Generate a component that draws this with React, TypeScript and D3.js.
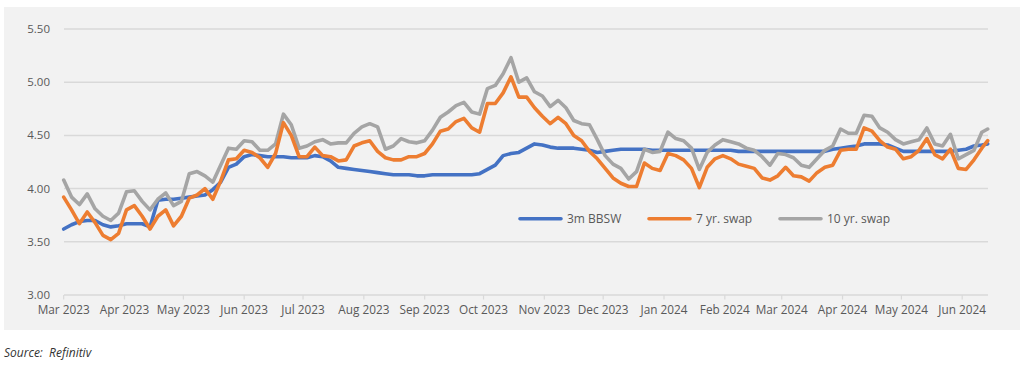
import React from "react";
import * as d3 from "d3";

const dates: string[] = [
  "2023-03-01","2023-03-05","2023-03-09","2023-03-13","2023-03-17","2023-03-21","2023-03-25","2023-03-29",
  "2023-04-02","2023-04-06","2023-04-10","2023-04-14","2023-04-18","2023-04-22","2023-04-26","2023-04-30",
  "2023-05-04","2023-05-08","2023-05-12","2023-05-16","2023-05-20","2023-05-24","2023-05-28","2023-06-01",
  "2023-06-05","2023-06-09","2023-06-13","2023-06-17","2023-06-21","2023-06-25","2023-06-29","2023-07-03",
  "2023-07-07","2023-07-11","2023-07-15","2023-07-19","2023-07-23","2023-07-27","2023-07-31","2023-08-04",
  "2023-08-08","2023-08-12","2023-08-16","2023-08-20","2023-08-24","2023-08-28","2023-09-01","2023-09-05",
  "2023-09-09","2023-09-13","2023-09-17","2023-09-21","2023-09-25","2023-09-29","2023-10-03","2023-10-07",
  "2023-10-11","2023-10-15","2023-10-19","2023-10-23","2023-10-27","2023-10-31","2023-11-04","2023-11-08",
  "2023-11-12","2023-11-16","2023-11-20","2023-11-24","2023-11-28","2023-12-02","2023-12-06","2023-12-10",
  "2023-12-14","2023-12-18","2023-12-22","2023-12-26","2023-12-30","2024-01-03","2024-01-07","2024-01-11",
  "2024-01-15","2024-01-19","2024-01-23","2024-01-27","2024-01-31","2024-02-04","2024-02-08","2024-02-12",
  "2024-02-16","2024-02-20","2024-02-24","2024-02-28","2024-03-03","2024-03-07","2024-03-11","2024-03-15",
  "2024-03-19","2024-03-23","2024-03-27","2024-03-31","2024-04-04","2024-04-08","2024-04-12","2024-04-16",
  "2024-04-20","2024-04-24","2024-04-28","2024-05-02","2024-05-06","2024-05-10","2024-05-14","2024-05-18",
  "2024-05-22","2024-05-26","2024-05-30","2024-06-03","2024-06-07","2024-06-11","2024-06-14"
];

const bbsw3m: number[] = [
  3.62,3.66,3.69,3.70,3.70,3.66,3.64,3.65,3.67,3.67,3.67,3.64,3.89,3.90,3.90,3.91,
  3.92,3.93,3.94,3.99,4.06,4.20,4.23,4.30,4.32,4.31,4.30,4.30,4.30,4.29,4.29,4.29,
  4.31,4.30,4.26,4.20,4.19,4.18,4.17,4.16,4.15,4.14,4.13,4.13,4.13,4.12,4.12,4.13,
  4.13,4.13,4.13,4.13,4.13,4.14,4.18,4.22,4.31,4.33,4.34,4.38,4.42,4.41,4.39,4.38,
  4.38,4.38,4.37,4.36,4.34,4.35,4.36,4.37,4.37,4.37,4.37,4.36,4.36,4.36,4.36,4.36,
  4.36,4.36,4.36,4.36,4.36,4.36,4.35,4.35,4.35,4.35,4.35,4.35,4.35,4.35,4.35,4.35,
  4.35,4.35,4.37,4.38,4.39,4.40,4.42,4.42,4.42,4.41,4.38,4.35,4.35,4.35,4.35,4.35,
  4.35,4.35,4.36,4.37,4.40,4.41,4.42
];

const swap7: number[] = [
  3.92,3.80,3.67,3.78,3.68,3.56,3.52,3.58,3.80,3.84,3.74,3.62,3.74,3.80,3.65,3.74,
  3.91,3.94,4.00,3.90,4.07,4.27,4.28,4.36,4.34,4.29,4.20,4.33,4.62,4.50,4.30,4.30,
  4.39,4.31,4.30,4.26,4.27,4.40,4.43,4.45,4.35,4.29,4.27,4.27,4.30,4.30,4.33,4.42,
  4.54,4.56,4.63,4.66,4.57,4.53,4.80,4.80,4.90,5.05,4.86,4.86,4.76,4.68,4.61,4.67,
  4.61,4.50,4.45,4.35,4.28,4.19,4.10,4.05,4.02,4.02,4.24,4.19,4.17,4.33,4.31,4.27,
  4.19,4.01,4.20,4.28,4.31,4.28,4.23,4.21,4.19,4.10,4.08,4.12,4.20,4.12,4.11,4.07,
  4.15,4.20,4.22,4.36,4.37,4.37,4.57,4.54,4.45,4.39,4.37,4.28,4.30,4.36,4.47,4.32,
  4.28,4.37,4.19,4.18,4.27,4.38,4.45
];

const swap10: number[] = [
  4.08,3.92,3.85,3.95,3.81,3.74,3.70,3.77,3.97,3.98,3.88,3.80,3.90,3.96,3.84,3.88,
  4.14,4.16,4.12,4.06,4.22,4.38,4.37,4.45,4.44,4.36,4.36,4.42,4.70,4.60,4.38,4.40,
  4.44,4.46,4.42,4.43,4.43,4.52,4.58,4.61,4.58,4.37,4.40,4.47,4.44,4.43,4.45,4.55,
  4.67,4.72,4.78,4.81,4.72,4.70,4.94,4.97,5.08,5.23,5.00,5.04,4.91,4.87,4.77,4.83,
  4.76,4.64,4.61,4.60,4.46,4.31,4.23,4.19,4.09,4.16,4.37,4.34,4.35,4.53,4.47,4.45,
  4.38,4.18,4.34,4.41,4.46,4.44,4.42,4.38,4.36,4.30,4.22,4.33,4.32,4.29,4.22,4.20,
  4.28,4.36,4.40,4.56,4.52,4.52,4.69,4.68,4.57,4.53,4.46,4.42,4.44,4.46,4.57,4.42,
  4.40,4.51,4.28,4.32,4.36,4.53,4.56
];

const yTicks: number[] = [3.0, 3.5, 4.0, 4.5, 5.0, 5.5];
const seriesNames: string[] = ["3m BBSW", "7 yr. swap", "10 yr. swap"];
const seriesColors: string[] = ["#4472C4", "#ED7D31", "#A5A5A5"];
const xDomain: string[] = ["2023-03-01", "2024-06-14"];

export default function App() {
  const W = 1024, H = 367;
  const parse = d3.utcParse("%Y-%m-%d");
  const dts = dates.map((s) => parse(s) as Date);
  const x = d3.scaleUtc()
    .domain([parse(xDomain[0]) as Date, parse(xDomain[1]) as Date])
    .range([63.7, 987.7]);
  const y = d3.scaleLinear().domain([3, 5.5]).range([295, 29]);
  const months = d3.utcMonth.range(parse("2023-03-01") as Date, parse("2024-06-02") as Date);
  const fmt = d3.utcFormat("%b %Y");
  const series = [bbsw3m, swap7, swap10];
  const line = (vals: number[]) =>
    d3.line<number>().x((_, i) => x(dts[i])).y((v) => y(v))(vals) || "";
  const font = "'Open Sans', 'Noto Sans', sans-serif";
  const legendX = [520, 649, 780];

  return (
    <svg width={W} height={H} style={{ position: "absolute", left: 0, top: 0 }}>
      <rect x={4} y={7} width={1016} height={323} fill="#f2f2f2" />
      {yTicks.map((t) => (
        <g key={t}>
          <line x1={64} x2={988} y1={y(t)} y2={y(t)} stroke="#d9d9d9" strokeWidth={1.5} />
          <text x={50} y={y(t) + 4} textAnchor="end" fontFamily={font} fontSize={11.5} fill="#595959">
            {t.toFixed(2)}
          </text>
        </g>
      ))}
      {months.map((m) => (
        <g key={m.toISOString()}>
          <line x1={x(m)} x2={x(m)} y1={295} y2={299.5} stroke="#d9d9d9" strokeWidth={1.2} />
          <text x={x(m)} y={314} textAnchor="middle" fontFamily={font} fontSize={11.8} fill="#595959">
            {fmt(m)}
          </text>
        </g>
      ))}
      {[0, 2, 1].map((k) => (
        <path key={k} d={line(series[k])} fill="none" stroke={seriesColors[k]}
          strokeWidth={3.6} strokeLinejoin="round" strokeLinecap="round" />
      ))}
      {seriesNames.map((n, k) => (
        <g key={n}>
          <line x1={legendX[k]} x2={legendX[k] + 41} y1={218.7} y2={218.7}
            stroke={seriesColors[k]} strokeWidth={3.6} strokeLinecap="round" />
          <text x={legendX[k] + 47} y={223} fontFamily={font} fontSize={12} fill="#595959">{n}</text>
        </g>
      ))}
      <text x={4} y={357} fontFamily={font} fontSize={12} fontStyle="italic" fill="#333333" xmlSpace="preserve">
        {"Source:  Refinitiv"}
      </text>
    </svg>
  );
}
